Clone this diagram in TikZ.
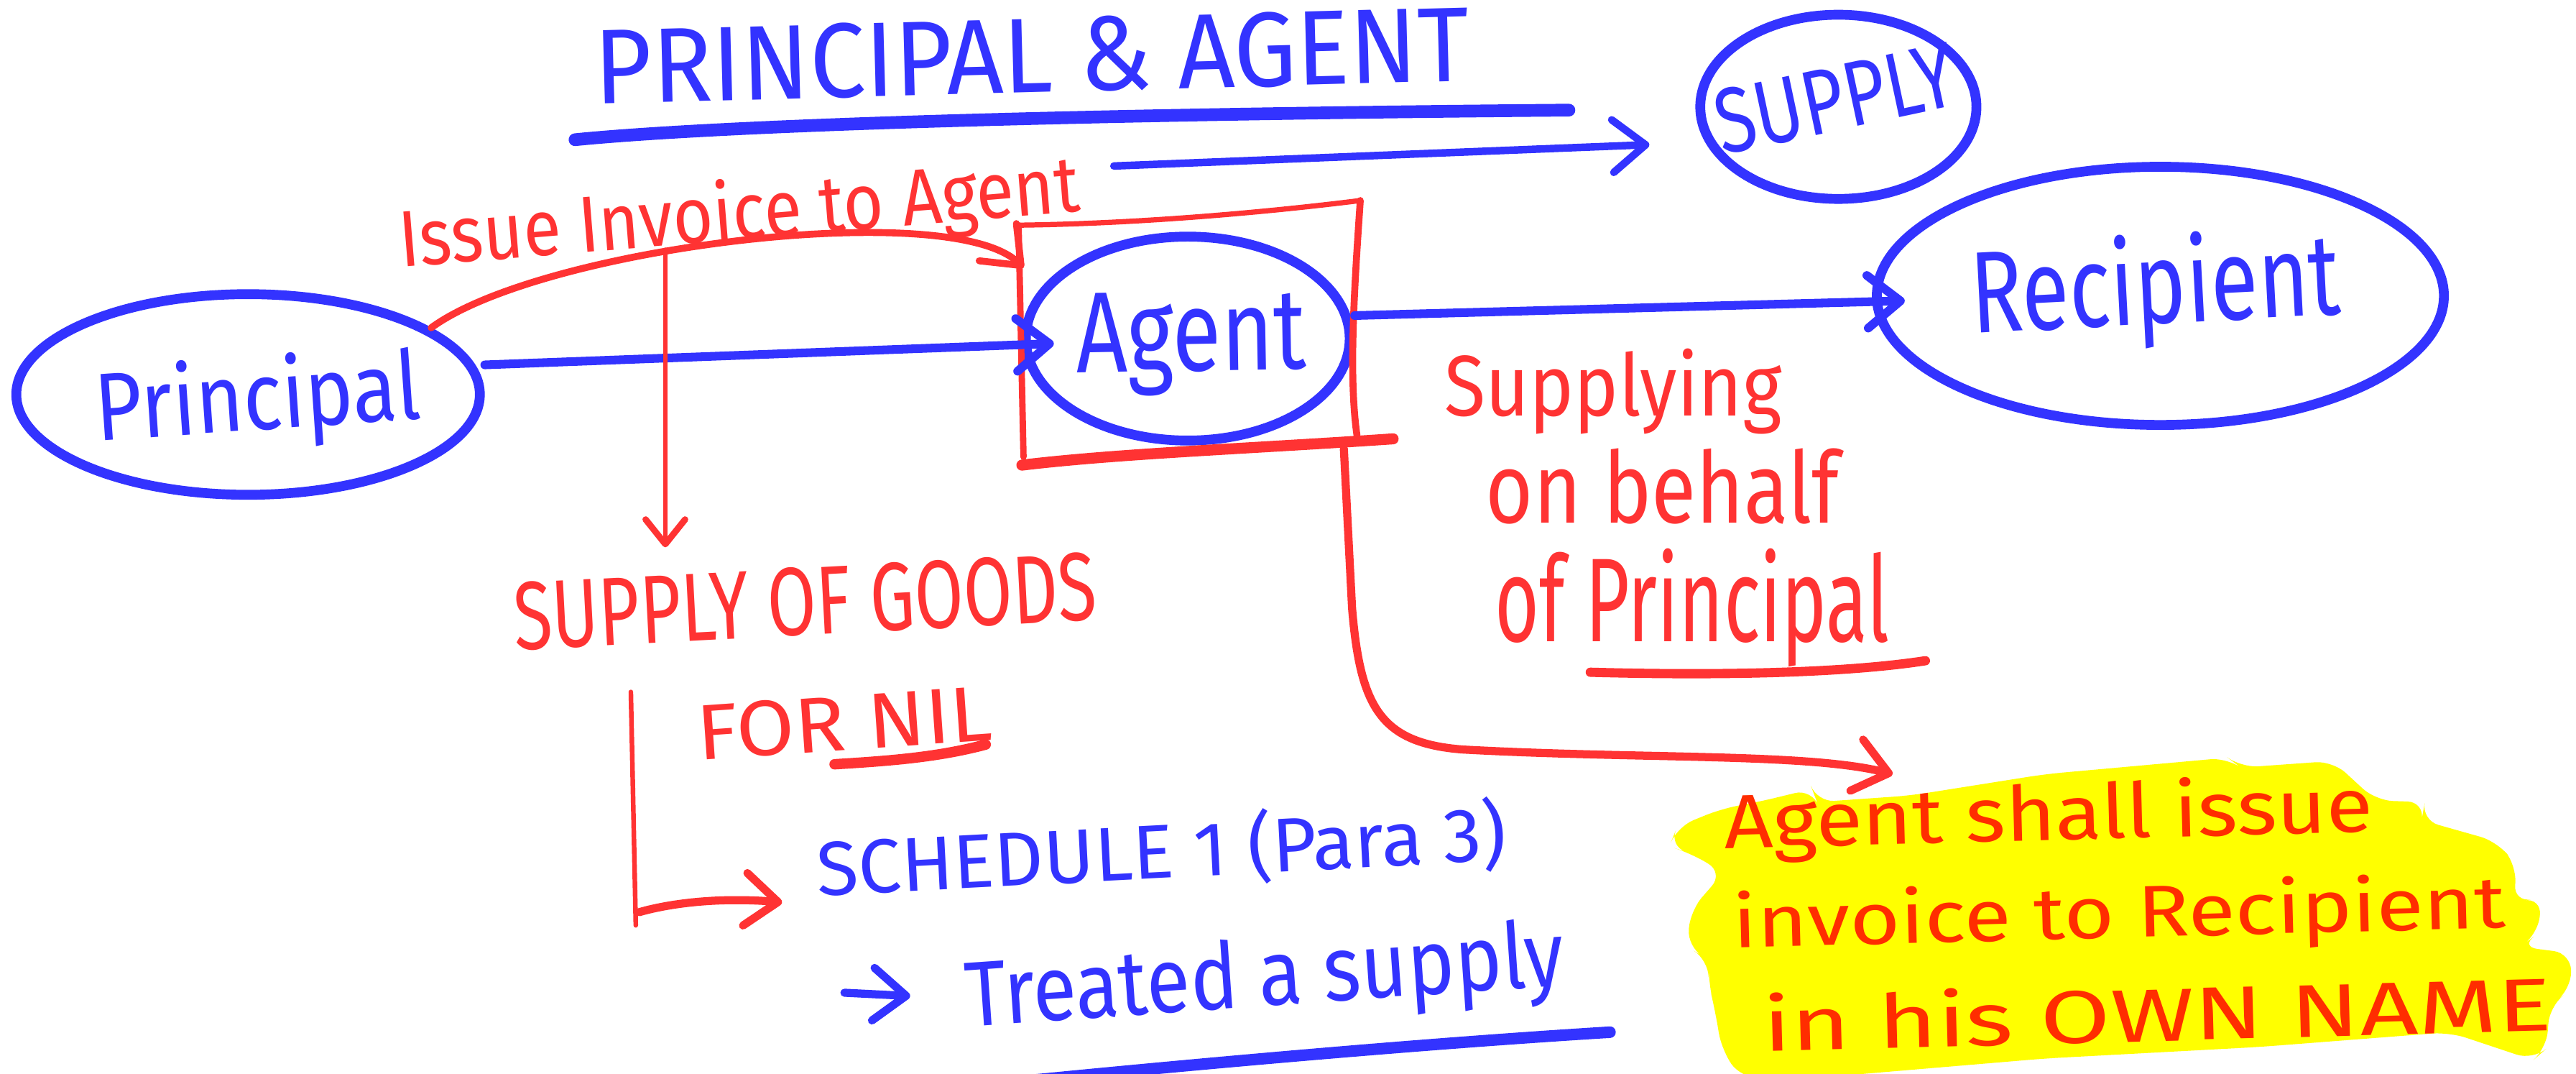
\documentclass[tikz,border=0pt]{standalone}
\usepackage{fontspec}
\setmainfont{Fira Sans}
\usetikzlibrary{arrows.meta,shapes.geometric}
\definecolor{inkblue}{RGB}{51,51,255}
\definecolor{inkred}{RGB}{255,51,51}
\definecolor{inkorange}{RGB}{255,45,0}
\definecolor{marker}{RGB}{255,255,0}
% scale a piece of handwriting-like text to a given width and total height (cm)
\newcommand\fitto[3]{\resizebox*{#1cm}{#2cm}{#3}}

\begin{document}
\begin{tikzpicture}[x=0.01cm,y=-0.01cm,
  hand/.style={inner sep=0pt, outer sep=0pt},
  bluetext/.style={hand, text=inkblue},
  redtext/.style={hand, text=inkred},
  marktext/.style={hand, text=inkorange},
  ring/.style={ellipse, draw=inkblue, line width=1.7pt, inner sep=0pt},
  blueline/.style={draw=inkblue, line width=1.5pt, line cap=round, line join=round},
  redline/.style={draw=inkred, line width=1pt, line cap=round, line join=round},
  chev/.style={-{Straight Barb[length=2mm,width=3.2mm,round]}},
  smallchev/.style={-{Straight Barb[length=1.5mm,width=2.4mm,round,line width=1.1pt]}},
]
\useasboundingbox (0,0) rectangle (1568,653.44);

% ---------- highlighter patch behind the note ----------
\fill[marker, rounded corners=3pt]
  (1016,515) -- (1021,503) -- (1048,492) -- (1070,488) -- (1103,480) -- (1106,488)
  -- (1163,484) -- (1245,471) -- (1356,461) -- (1364,467) -- (1420,463) -- (1446,487)
  -- (1476,488) -- (1474,499) -- (1520,512) -- (1532,527) -- (1530,549) -- (1547,546)
  -- (1545,568) -- (1534,576) -- (1565,580) -- (1565,602) -- (1552,612) -- (1550,638)
  -- (1542,645) -- (1491,628) -- (1375,637) -- (1245,644) -- (1103,656) -- (1060,656)
  -- (1048,639) -- (1044,615) -- (1040,598) -- (1040,584) -- (1027,576) -- (1029,554)
  -- (1049,531) -- (1029,519) -- cycle;

% ---------- heading ----------
\node[bluetext, rotate=1.5] (title) at (628,34) {\fitto{5.32}{0.46}{PRINCIPAL \& AGENT}};
\draw[blueline, line width=2.2pt] (350,85) .. controls (420,78) and (600,70) .. (955,67);

% ---------- parties ----------
\node[ring, minimum width=2.82cm, minimum height=1.22cm] (principal) at (151,240) {};
\node[ring, minimum width=1.97cm, minimum height=1.24cm] (agent) at (723,206) {};
\node[ring, minimum width=3.45cm, minimum height=1.57cm] (recipient) at (1315,180) {};
\node[ring, minimum width=1.68cm, minimum height=1.12cm] (supply) at (1119,65) {};

\node[bluetext, rotate=4] (principalText) at (157,245) {\fitto{1.98}{0.58}{Principal}};
\node[bluetext, rotate=1] (agentText) at (725,209) {\fitto{1.40}{0.63}{Agent}};
\node[bluetext, rotate=3] (recipientText) at (1312,177) {\fitto{2.25}{0.70}{Recipient}};
\node[bluetext, rotate=12] (supplyText) at (1117,60) {\fitto{1.48}{0.40}{SUPPLY}};

% ---------- hand-drawn frame round the agent ----------
\coordinate (bxTL) at (620,137);
\coordinate (bxTR) at (828,122);
\coordinate (bxBL) at (622,283);
\coordinate (bxBR) at (848,267);
\coordinate (bxL) at (623,163);
\draw[redline, line width=1.1pt] (bxTL) -- (623,278);
\draw[redline, line width=0.9pt] (bxTL) .. controls (700,136) and (780,128) .. (bxTR);
\draw[redline, line width=1.2pt] (bxTR) .. controls (824,180) and (821,230) .. (826,265);
\draw[redline, line width=1.9pt] (bxBL) .. controls (680,276) and (760,273) .. (bxBR);

% ---------- blue flows ----------
\draw[blueline, chev] ([yshift=0.18cm]principal.east) -- ([xshift=0.2cm,yshift=-0.03cm]agent.west);
\draw[blueline, chev] ([yshift=0.14cm]agent.east) -- ([xshift=0.2cm,yshift=-0.03cm]recipient.west);
\coordinate (supTail) at (678,101);
\draw[blueline, line width=1.3pt, chev] (supTail) -- ([xshift=-0.28cm,yshift=-0.23cm]supply.west);

% ---------- invoice from principal ----------
\node[redtext, rotate=4.7] (invoice) at (450,132) {\fitto{4.15}{0.48}{Issue Invoice to Agent}};
\draw[redline, line width=1.2pt, chev] (principal.20) .. controls (330,150) and (580,120) .. (bxL);

\coordinate (split) at (405,152);
\coordinate (goodsTip) at (405,333);
\draw[redline, line width=0.8pt, smallchev] (split) -- (goodsTip);

\node[redtext, rotate=3] (goods) at (490,366) {\fitto{3.55}{0.42}{SUPPLY OF GOODS}};
\node[redtext, rotate=4] (nil) at (514,440) {\fitto{1.80}{0.34}{FOR NIL}};
\draw[redline, line width=1.8pt] (508,465) .. controls (540,463) and (570,461) .. (600,453);

% ---------- schedule reference ----------
\coordinate (brTop) at (384,421);
\coordinate (brBot) at (387,563);
\coordinate (brFoot) at (389,555);
\coordinate (schedTip) at (476,549);
\draw[redline, line width=0.8pt] (brTop) -- (brBot);
\draw[redline, line width=1.4pt, chev] (brFoot) .. controls (410,549) and (440,546) .. (schedTip);

\node[bluetext, rotate=3] (schedule) at (707,518) {\fitto{4.20}{0.46}{SCHEDULE 1 (Para 3)}};

\coordinate (trA) at (514,604);
\coordinate (trB) at (554,606);
\draw[blueline, line width=1.4pt, chev] (trA) -- (trB);
\node[bluetext, rotate=4] (treated) at (770,597) {\fitto{3.65}{0.54}{Treated a supply}};
\draw[blueline, line width=2pt] (580,662) .. controls (700,650) and (850,636) .. (980,628);

% ---------- supplying on behalf ----------
\node[redtext] (supplying) at (982,238) {\fitto{2.05}{0.52}{Supplying}};
\node[redtext] (behalf) at (1012,296) {\fitto{2.15}{0.46}{on behalf}};
\node[redtext] (ofPrincipal) at (1030,370) {\fitto{2.40}{0.72}{of Principal}};
\draw[redline, line width=1.6pt] (968,409) .. controls (1040,411) and (1120,410) .. (1172,402);

% ---------- agent invoices the recipient ----------
\coordinate (boxFoot) at (818,273);
\coordinate (shallTip) at (1152,471);
\draw[redline, line width=1.4pt, chev] (boxFoot) -- (823,370)
  .. controls (828,430) and (840,452) .. (890,456)
  .. controls (1000,462) and (1100,458) .. (shallTip);

\node[marktext, rotate=1.5] (shall) at (1247,498) {\fitto{3.95}{0.46}{Agent shall issue}};
\node[marktext, rotate=1.5] (toRecipient) at (1290,558) {\fitto{4.70}{0.44}{invoice to Recipient}};
\node[marktext, rotate=1.5] (ownName) at (1313,616) {\fitto{4.80}{0.36}{in his OWN NAME}};

\end{tikzpicture}
\end{document}
